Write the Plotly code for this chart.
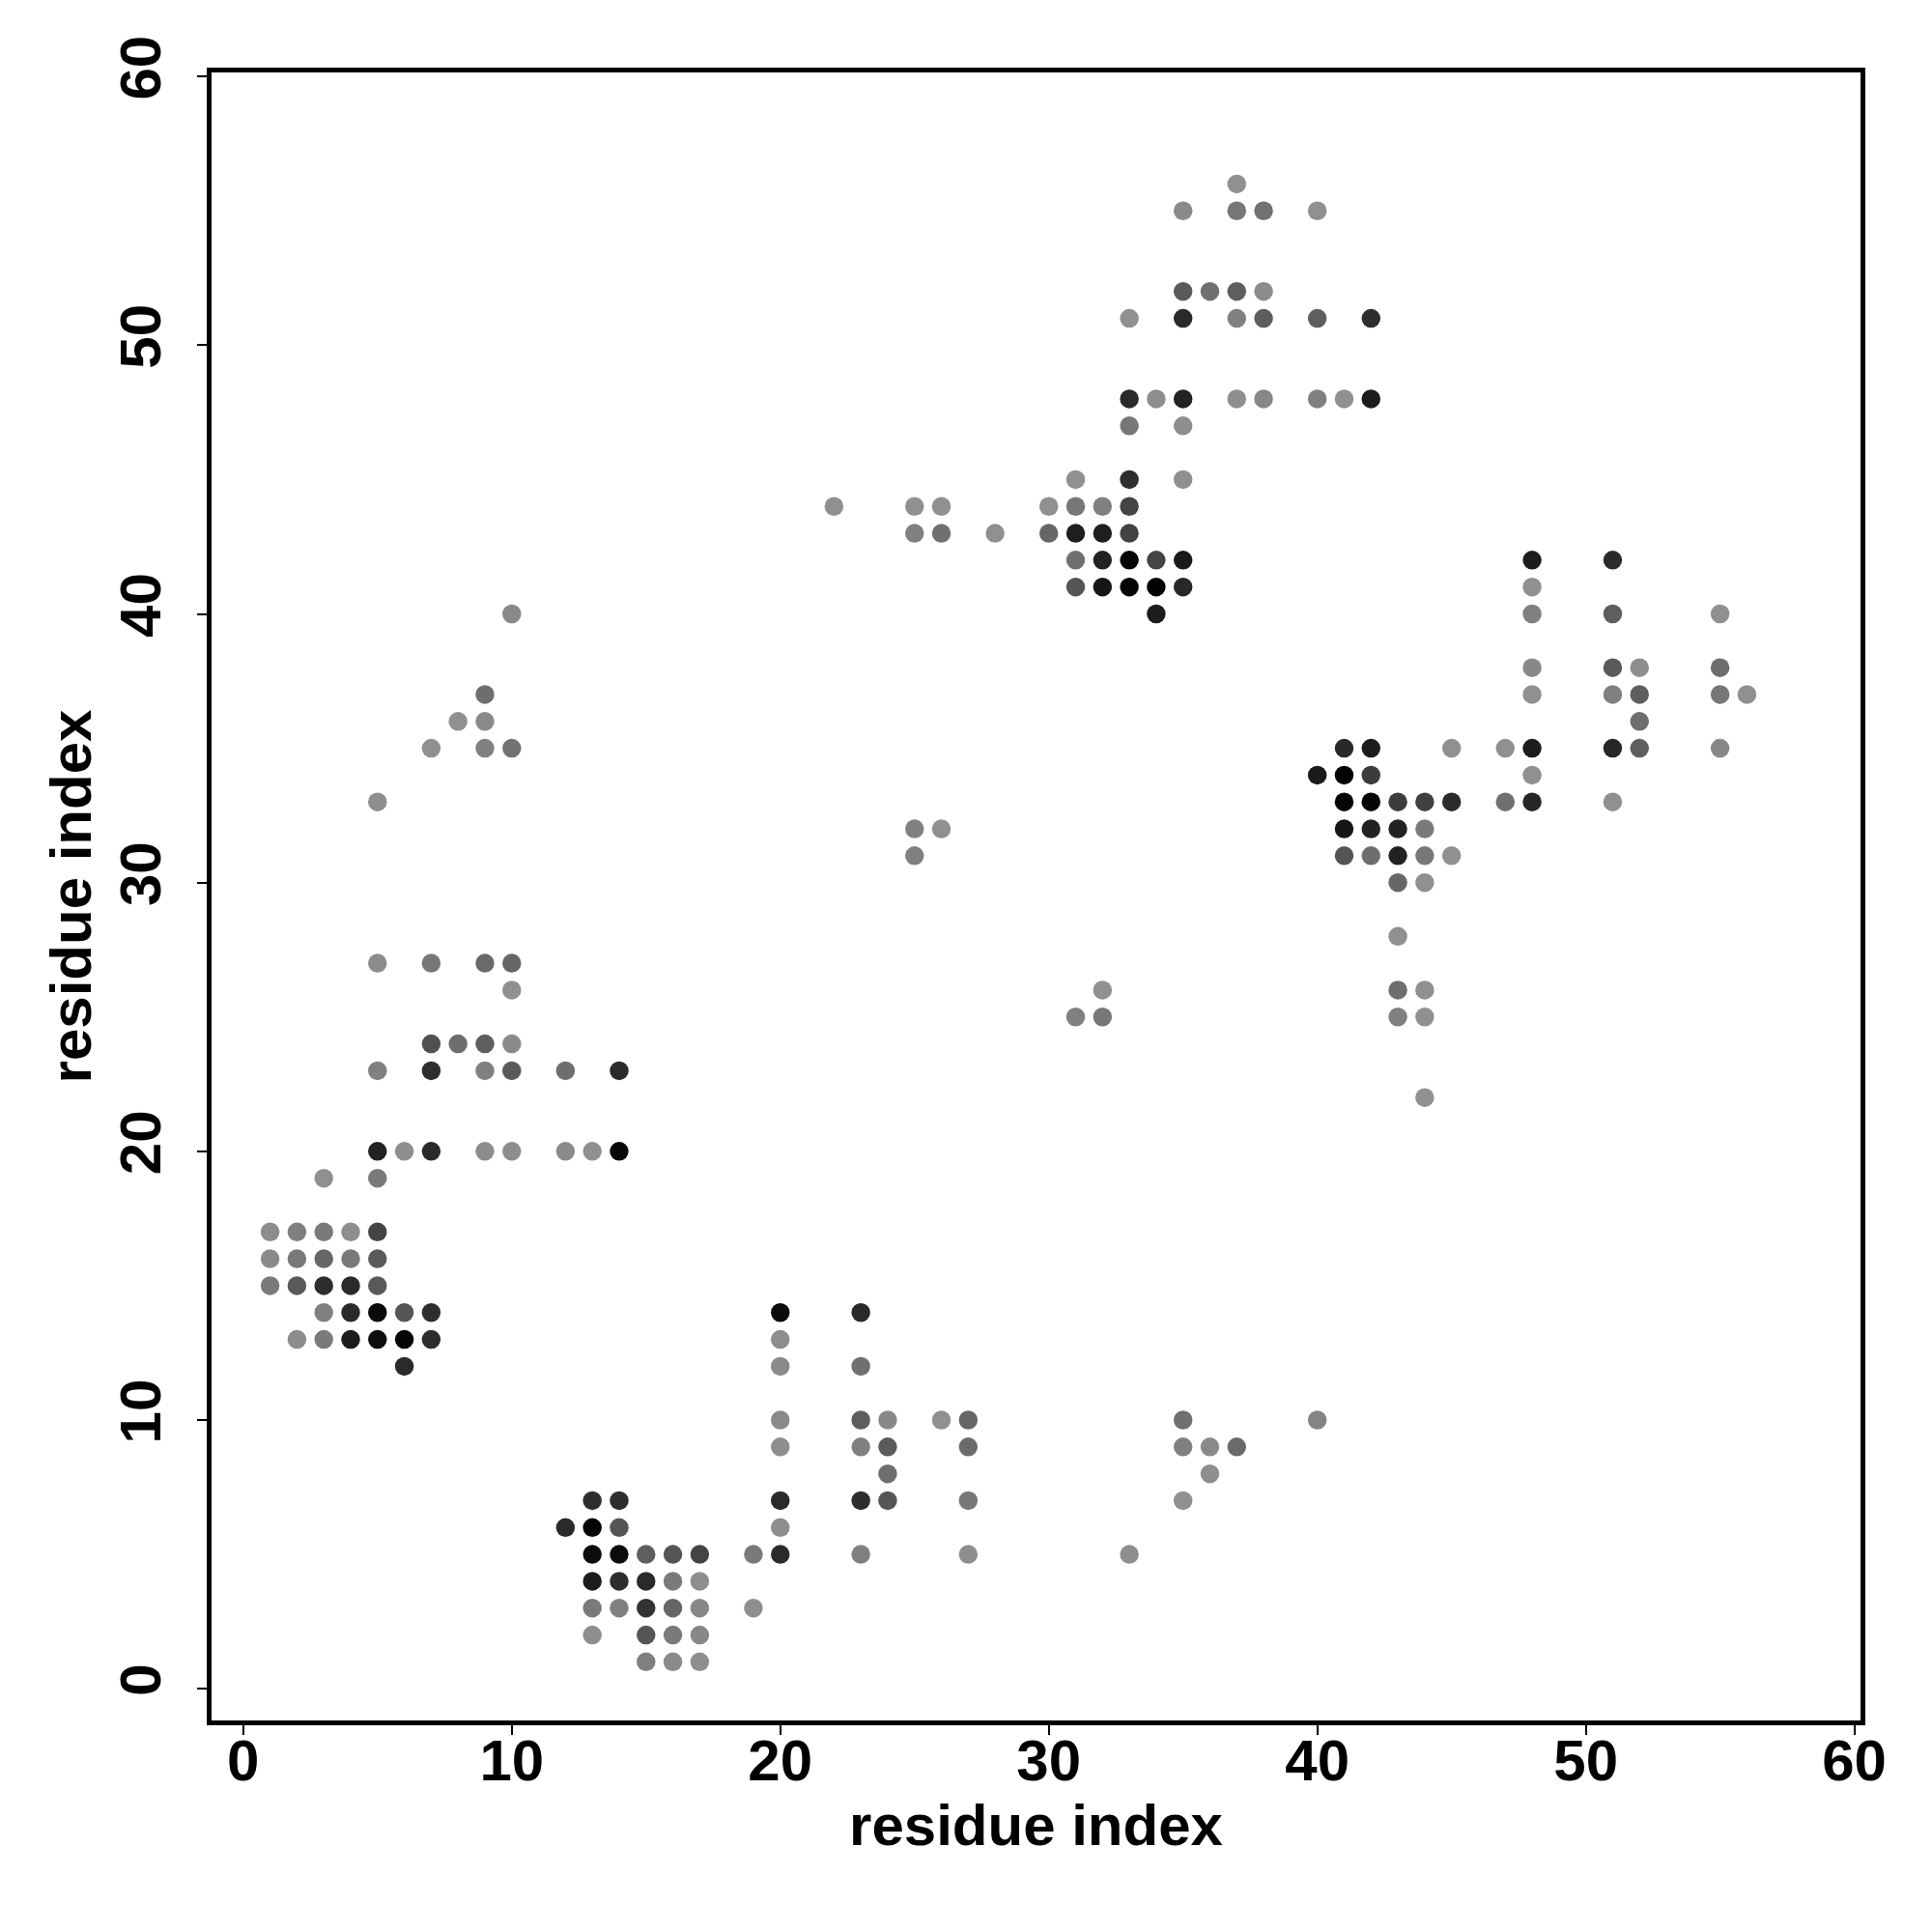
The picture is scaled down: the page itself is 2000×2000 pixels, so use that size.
import plotly.graph_objects as go

# residue i (x), residue j (y), gray level of each contact (0 = black, 255 = white)
res_i = [
    1, 2, 3, 4, 5,
    1, 2, 3, 4, 5,
    1, 2, 3, 4, 5,
    3, 4, 5, 6, 7,
    2, 3, 4, 5, 6, 7,
    6,
    3, 5,
    5, 6, 7, 9, 10, 12, 13, 14,
    5, 7, 9, 10, 12, 14,
    7, 8, 9, 10,
    10,
    5, 7, 9, 10,
    5,
    7, 9, 10,
    8, 9,
    9,
    10,
    13, 14,
    12, 13, 14,
    13, 14, 15, 16, 17, 19, 20,
    13, 14, 15, 16, 17,
    13, 14, 15, 16, 17, 19,
    13, 15, 16, 17,
    15, 16, 17,
    20, 20, 20, 20, 20, 20, 20,
    23, 23, 23, 23, 23, 23,
    24, 24, 24, 24,
    26,
    27, 27, 27, 27,
    33,
    35, 35, 35,
    36, 36,
    37,
    40,
    25, 26, 25,
    31, 32, 32,
    22, 25, 26, 28,
    25, 26,
    30, 31, 32, 33,
    30, 31, 32, 33,
    31, 32, 33, 34, 35,
    31, 32, 33, 34, 35,
    34,
    31, 33, 35,
    33, 35,
    33, 34, 35, 37, 38, 40, 41, 42,
    33, 35, 37, 38, 40, 42,
    35, 36, 37, 38,
    35, 37, 38, 40,
    37,
    48, 51,
    48,
    48, 51, 55,
    48, 51, 52, 55,
    48, 51, 52, 55, 56,
    52,
    41, 42, 45, 47, 48, 51, 52, 55,
    40, 41, 42, 48,
    41, 42, 43, 44, 45, 47, 48, 51,
    41, 42, 43, 44,
    41, 42, 43, 44, 45,
    43, 44,
    43,
    43, 44,
    43, 44,
    44,
]
res_j = [
    17, 17, 17, 17, 17,
    16, 16, 16, 16, 16,
    15, 15, 15, 15, 15,
    14, 14, 14, 14, 14,
    13, 13, 13, 13, 13, 13,
    12,
    19, 19,
    20, 20, 20, 20, 20, 20, 20, 20,
    23, 23, 23, 23, 23, 23,
    24, 24, 24, 24,
    26,
    27, 27, 27, 27,
    33,
    35, 35, 35,
    36, 36,
    37,
    40,
    7, 7,
    6, 6, 6,
    5, 5, 5, 5, 5, 5, 5,
    4, 4, 4, 4, 4,
    3, 3, 3, 3, 3, 3,
    2, 2, 2, 2,
    1, 1, 1,
    14, 13, 12, 10, 9, 7, 6,
    14, 12, 10, 9, 7, 5,
    10, 9, 8, 7,
    10,
    10, 9, 7, 5,
    5,
    10, 9, 7,
    9, 8,
    9,
    10,
    32, 32, 31,
    25, 26, 25,
    44, 44, 44, 43,
    43, 43,
    44, 44, 44, 44,
    43, 43, 43, 43,
    42, 42, 42, 42, 42,
    41, 41, 41, 41, 41,
    40,
    45, 45, 45,
    47, 47,
    48, 48, 48, 48, 48, 48, 48, 48,
    51, 51, 51, 51, 51, 51,
    52, 52, 52, 52,
    55, 55, 55, 55,
    56,
    42, 42,
    41,
    40, 40, 40,
    38, 38, 38, 38,
    37, 37, 37, 37, 37,
    36,
    35, 35, 35, 35, 35, 35, 35, 35,
    34, 34, 34, 34,
    33, 33, 33, 33, 33, 33, 33, 33,
    32, 32, 32, 32,
    31, 31, 31, 31, 31,
    30, 30,
    28,
    26, 26,
    25, 25,
    22,
]
gray = [
    140, 128, 122, 142, 69,
    138, 120, 102, 122, 90,
    122, 90, 46, 42, 90,
    128, 42, 10, 85, 46,
    140, 122, 28, 14, 5, 46,
    42,
    144, 122,
    34, 142, 42, 140, 142, 138, 144, 8,
    128, 46, 128, 90, 110, 42,
    80, 110, 94, 138,
    144,
    140, 119, 106, 102,
    142,
    144, 128, 114,
    144, 138,
    110,
    136,
    46, 46,
    42, 5, 85,
    12, 12, 94, 85, 68, 122, 42,
    28, 46, 42, 122, 142,
    122, 128, 51, 102, 136, 142,
    142, 85, 122, 136,
    128, 138, 142,
    10, 142, 138, 138, 142, 42, 142,
    42, 112, 94, 128, 46, 128,
    136, 90, 110, 85,
    144,
    102, 106, 119, 142,
    142,
    112, 128, 144,
    138, 142,
    106,
    132,
    128, 144, 128,
    128, 144, 119,
    144, 144, 144, 144,
    128, 112,
    144, 119, 128, 68,
    102, 30, 30, 66,
    112, 34, 5, 68, 26,
    85, 22, 5, 3, 40,
    28,
    144, 46, 144,
    119, 142,
    42, 142, 34, 142, 136, 128, 144, 28,
    144, 42, 128, 94, 94, 46,
    90, 112, 94, 140,
    138, 119, 114, 144,
    144,
    28, 42,
    144,
    128, 94, 144,
    136, 90, 142, 110,
    144, 128, 94, 119, 144,
    110,
    42, 28, 144, 144, 28, 38, 94, 136,
    26, 3, 60, 144,
    5, 5, 60, 64, 42, 112, 38, 144,
    22, 34, 34, 122,
    85, 110, 34, 119, 144,
    102, 144,
    144,
    110, 144,
    128, 144,
    144,
]

tick_vals = [0, 10, 20, 30, 40, 50, 60]
axis_title = "residue index"

colors = [f"rgb({g},{g},{g})" for g in gray]

fig = go.Figure(
    go.Scatter(
        x=res_i, y=res_j, mode="markers",
        marker=dict(size=19.5, color=colors, line=dict(width=0)),
        showlegend=False,
    )
)

font_family = "Liberation Sans, Arial, Helvetica, sans-serif"
axis_common = dict(
    showgrid=False, zeroline=False,
    showline=True, linecolor="black", linewidth=5, mirror=True,
    ticks="outside", ticklen=10, tickwidth=2, tickcolor="black",
    tickvals=tick_vals,
    tickfont=dict(family=font_family, size=60, color="black", weight="bold"),
    title=dict(text=axis_title,
               font=dict(family=font_family, size=60, color="black", weight="bold")),
)

fig.update_layout(
    width=2000, height=2000,
    margin=dict(l=211, r=82, t=67, b=227),
    paper_bgcolor="white", plot_bgcolor="white",
    xaxis=dict(range=[-1.18, 60.23], ticklabelstandoff=-25, **axis_common),
    yaxis=dict(range=[-1.18, 60.15], tickangle=-90, ticklabelstandoff=14, **axis_common),
)
fig.update_xaxes(title_standoff=14)
fig.update_yaxes(title_standoff=0)

fig.write_html("out.html")
